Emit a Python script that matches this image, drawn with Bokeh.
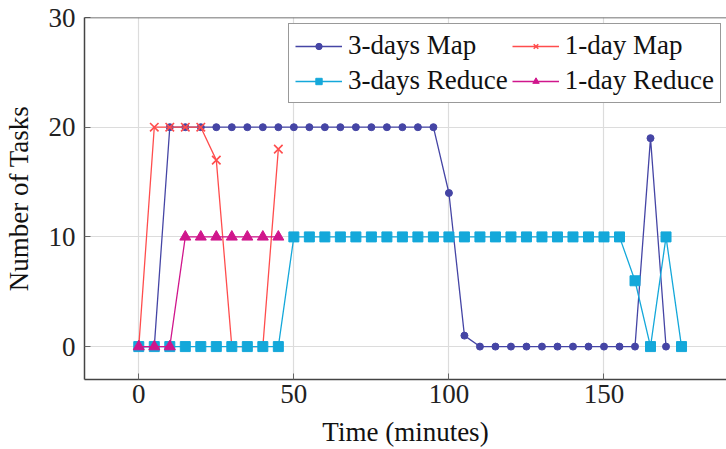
from bokeh.plotting import figure
from bokeh.models import Range1d, Legend, LegendItem, FixedTicker, Span
from bokeh.embed import file_html
from bokeh.resources import INLINE

# ---- data ----
t_3map = [0, 5, 10, 15, 20, 25, 30, 35, 40, 45, 50, 55, 60, 65, 70, 75, 80, 85, 90, 95,
          100, 105, 110, 115, 120, 125, 130, 135, 140, 145, 150, 155, 160, 165, 170]
v_3map = [0, 0, 20, 20, 20, 20, 20, 20, 20, 20, 20, 20, 20, 20, 20, 20, 20, 20, 20, 20,
          14, 1, 0, 0, 0, 0, 0, 0, 0, 0, 0, 0, 0, 19, 0]

t_1map = [0, 5, 10, 15, 20, 25, 30, 35, 40, 45]
v_1map = [0, 20, 20, 20, 20, 17, 0, 0, 0, 18]

t_3red = [0, 5, 10, 15, 20, 25, 30, 35, 40, 45, 50, 55, 60, 65, 70, 75, 80, 85, 90, 95,
          100, 105, 110, 115, 120, 125, 130, 135, 140, 145, 150, 155, 160, 165, 170, 175]
v_3red = [0, 0, 0, 0, 0, 0, 0, 0, 0, 0, 10, 10, 10, 10, 10, 10, 10, 10, 10, 10,
          10, 10, 10, 10, 10, 10, 10, 10, 10, 10, 10, 10, 6, 0, 10, 0]

t_1red = [0, 5, 10, 15, 20, 25, 30, 35, 40, 45]
v_1red = [0, 0, 0, 10, 10, 10, 10, 10, 10, 10]

labels = ["3-days Map", "1-day Map", "3-days Reduce", "1-day Reduce"]
x_ticks = [0, 50, 100, 150]
y_ticks = [0, 10, 20, 30]

FONT = "Liberation Serif"

p = figure(width=726, height=449, output_backend="svg", toolbar_location=None,
           x_range=Range1d(-17.5, 189.5), y_range=Range1d(-3, 30),
           min_border_left=83, min_border_top=17, min_border_bottom=69, min_border_right=0)

p.outline_line_color = None
p.background_fill_color = "white"
p.border_fill_color = "white"

for ax in (p.xaxis[0], p.yaxis[0]):
    ax.axis_line_color = "#444444"
    ax.axis_line_width = 1.5
    ax.major_tick_in = 6
    ax.major_tick_out = 0
    ax.major_tick_line_color = "#666666"
    ax.minor_tick_line_color = None
    ax.major_label_text_font = FONT
    ax.major_label_text_font_size = "27px"
    ax.major_label_text_color = "#222222"
    ax.axis_label_text_font = FONT
    ax.axis_label_text_font_size = "27px"
    ax.axis_label_text_font_style = "normal"
    ax.axis_label_text_color = "#111111"

p.xaxis.ticker = FixedTicker(ticks=x_ticks)
p.yaxis.ticker = FixedTicker(ticks=y_ticks)
p.xaxis.axis_label = "Time (minutes)"
p.yaxis.axis_label = "Number of Tasks"
p.xaxis.major_label_standoff = 5
p.xaxis.axis_label_standoff = 11
p.yaxis.major_label_standoff = 9
p.yaxis.axis_label_standoff = 12

# top frame line
p.add_layout(Span(location=30, dimension="width", line_color="#444444", line_width=1.5))

p.grid.grid_line_color = "#dcdcdc"
p.grid.grid_line_width = 1.2

c_3map = "#4545A5"
c_1map = "#FF4D4D"
c_3red = "#14A8DA"
c_1red = "#D0168C"

l1 = p.line(t_3map, v_3map, color=c_3map, line_width=1.3)
s1 = p.scatter(t_3map, v_3map, marker="circle", size=7, color=c_3map)
l2 = p.line(t_1map, v_1map, color=c_1map, line_width=1.3)
s2 = p.scatter(t_1map, v_1map, marker="x", size=12, line_color=c_1map, line_width=1.6)
l3 = p.line(t_3red, v_3red, color=c_3red, line_width=1.3)
s3 = p.scatter(t_3red, v_3red, marker="square", size=10, color=c_3red)
l4 = p.line(t_1red, v_1red, color=c_1red, line_width=1.3)
s4 = p.scatter(t_1red, v_1red, marker="triangle", size=11, color=c_1red)

# column-major fill: order so rows read (3-days Map, 1-day Map), (3-days Reduce, 1-day Reduce)
legend = Legend(items=[
    LegendItem(label=labels[0], renderers=[l1, s1]),
    LegendItem(label=labels[2], renderers=[l3, s3]),
    LegendItem(label=labels[1], renderers=[l2, s2]),
    LegendItem(label=labels[3], renderers=[l4, s4]),
], ncols=2, location=(204, 276))
legend.label_text_font = FONT
legend.label_text_font_size = "27px"
legend.label_text_color = "#111111"
legend.glyph_width = 47
legend.glyph_height = 16
legend.label_height = 30
legend.label_standoff = 6
legend.spacing = 4
legend.padding = 6
legend.margin = 0
legend.border_line_color = "#333333"
legend.border_line_width = 1.5
legend.background_fill_alpha = 1.0
p.add_layout(legend)

open("out.html", "w").write(file_html(p, INLINE))
